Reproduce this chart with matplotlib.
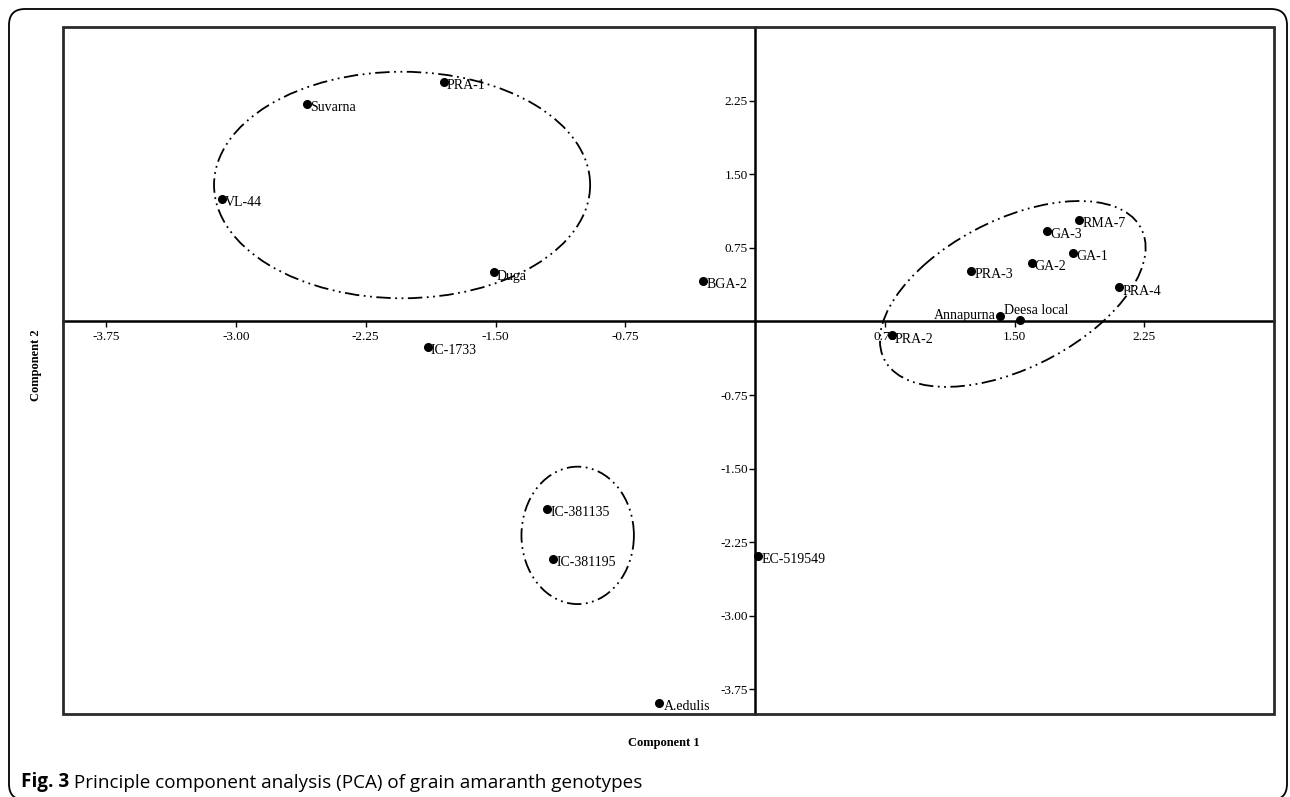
import numpy as np
import matplotlib
matplotlib.use("Agg")
import matplotlib.pyplot as plt
from matplotlib.patches import Ellipse, Rectangle, FancyBboxPatch
from matplotlib.transforms import IdentityTransform

plt.rcParams['axes.unicode_minus'] = False

# PCA scores
genotypes = ['PRA-1', 'Suvarna', 'VL-44', 'Duga', 'IC-1733', 'BGA-2',
             'RMA-7', 'GA-3', 'GA-1', 'GA-2', 'PRA-3', 'PRA-4',
             'Annapurna', 'Deesa local', 'PRA-2',
             'IC-381135', 'IC-381195', 'EC-519549', 'A.edulis']
comp1 = [-1.80, -2.59, -3.08, -1.51, -1.89, -0.30,
         1.875, 1.69, 1.84, 1.60, 1.25, 2.105,
         1.415, 1.53, 0.79,
         -1.20, -1.165, 0.02, -0.555]
comp2 = [2.44, 2.22, 1.25, 0.50, -0.26, 0.415,
         1.035, 0.925, 0.70, 0.60, 0.515, 0.35,
         0.055, 0.01, -0.14,
         -1.91, -2.42, -2.39, -3.885]

ticks = [-3.75, -3.00, -2.25, -1.50, -0.75, 0.75, 1.50, 2.25]

# cluster outlines: centre, half-width, half-height, skew (deg)
groups = [((-2.04, 1.39), 1.087, 1.154, 0.0),
          ((1.49, 0.28), 0.768, 0.947, 30.0),
          ((-1.025, -2.18), 0.325, 0.70, 0.0)]

# label offsets in pixels (default: right of dot)
offsets = {'Annapurna': (-4, 1, 'right'),
           'Deesa local': (-16, 10, 'left'),
           'A.edulis': (5, -4, 'left')}

fig = plt.figure(figsize=(12.9, 7.97), dpi=100)
ax = fig.add_axes([63 / 1290, 83 / 797, 1211 / 1290, 687 / 797])
ax.set_xlim(-4, 3)
ax.set_ylim(-4, 3)

serif = 'Liberation Serif'

# axes through the origin, box around the plot
for side in ['left', 'bottom']:
    ax.spines[side].set_position(('data', 0))
    ax.spines[side].set_linewidth(1.8)
for side in ['top', 'right']:
    ax.spines[side].set_visible(False)
ax.add_patch(Rectangle((0, 0), 1, 1, transform=ax.transAxes, fill=False,
                       lw=2.0, ec='#2a2a2a', clip_on=False, zorder=5))

ax.set_xticks(ticks)
ax.set_yticks(ticks)
ax.set_xticklabels(['%.2f' % t for t in ticks])
ax.set_yticklabels(['%.2f' % t for t in ticks])
ax.tick_params(axis='both', direction='out', length=4, width=1.0,
               labelsize=9.5, pad=1)
ax.tick_params(axis='x', pad=3)
for lab in ax.get_xticklabels() + ax.get_yticklabels():
    lab.set_family(serif)

# cluster ellipses
for (cx, cy), a, b, phi in groups:
    p = np.radians(phi)
    m = np.array([[a, 0.0], [b * np.sin(p), b * np.cos(p)]])
    u, s, vt = np.linalg.svd(m)
    ang = np.degrees(np.arctan2(u[1, 0], u[0, 0]))
    ax.add_patch(Ellipse((cx, cy), 2 * s[0], 2 * s[1], angle=ang, fill=False,
                         ec='black', lw=1.3,
                         ls=(0, (8, 2.5, 1, 2.5, 1, 2.5)), zorder=2))

ax.plot(comp1, comp2, 'o', color='black', ms=5.5, zorder=4, clip_on=False)

for name, x, y in zip(genotypes, comp1, comp2):
    dx, dy, ha = offsets.get(name, (3, -4, 'left'))
    ax.annotate(name, (x, y), xytext=(dx, dy), textcoords='offset pixels',
                ha=ha, va='center', fontsize=10, family=serif, zorder=6)

fig.text(664 / 1290, 1 - 743 / 797, 'Component 1', ha='center', va='center',
         fontsize=9, fontweight='bold', family=serif)
fig.text(36 / 1290, 1 - 365 / 797, 'Component 2', ha='center', va='center',
         rotation=90, fontsize=9, fontweight='bold', family=serif)

# caption
t1 = fig.text(21 / 1290, 1 - 787 / 797, 'Fig. 3', fontsize=13.6,
              fontweight='bold', family='Open Sans', va='baseline')
fig.add_artist(plt.Annotation(' Principle component analysis (PCA) of grain amaranth genotypes',
                              xy=(1, 0), xycoords=t1, va='bottom', ha='left',
                              fontsize=13.6, family='Open Sans'))

# rounded outer frame
fig.add_artist(FancyBboxPatch((9, -3), 1278, 791,
                              boxstyle='round,pad=0,rounding_size=16',
                              transform=IdentityTransform(), fill=False,
                              ec='black', lw=1.3))

fig.savefig('out.png', dpi=100)
